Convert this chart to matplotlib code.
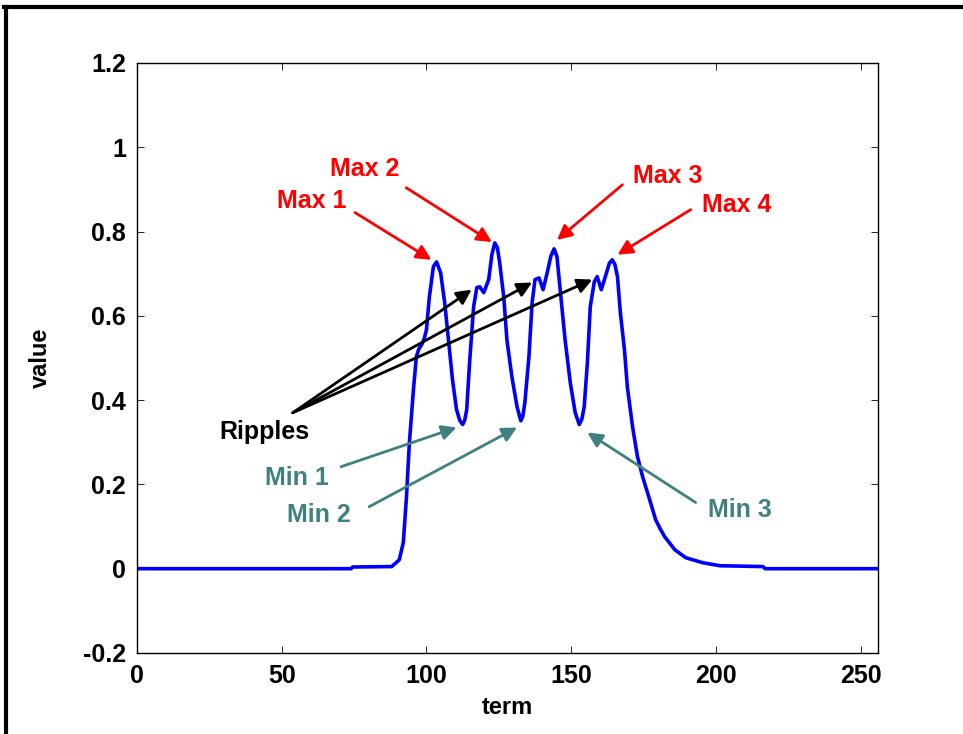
import matplotlib
matplotlib.use("Agg")
import matplotlib.pyplot as plt
from matplotlib.lines import Line2D

plt.rcParams['font.family'] = ['Liberation Sans', 'DejaVu Sans']
plt.rcParams['font.weight'] = 'bold'

# curve
term = [0, 74, 74.5, 88, 90.6, 92.0, 93.1, 94.1, 95.5, 96.5, 97.4, 98.3, 99.2, 100.0, 101.0, 102.4,
        103.5, 104.9, 106.3, 107.6, 109.0, 110.4, 111.5, 112.5, 113.2, 113.9, 114.9, 116.3, 117.4,
        118.4, 119.8, 121.5, 122.6, 123.6, 124.5, 125.3, 126.7, 127.8, 129.5, 131.3, 132.6, 133.3,
        134.0, 135.4, 136.5, 137.5, 138.9, 140.3, 141.7, 143.0, 144.1, 145.1, 146.2, 147.9, 149.7,
        151.4, 152.8, 153.7, 154.5, 155.6, 156.6, 158.0, 159.0, 160.4, 161.8, 163.2, 164.2, 165.1,
        166.0, 167.0, 168.4, 169.4, 171.2, 172.9, 174.7, 177.1, 179.2, 180.8, 182.3, 185.8,
        189.6, 195.5, 201.4, 216.3, 217, 256]
value = [0, 0, 0.004, 0.005, 0.021, 0.062, 0.171, 0.299, 0.425, 0.503, 0.522, 0.531, 0.545, 0.567,
         0.645, 0.717, 0.728, 0.702, 0.631, 0.543, 0.448, 0.377, 0.352, 0.342, 0.352, 0.377,
         0.489, 0.622, 0.667, 0.669, 0.655, 0.686, 0.745, 0.773, 0.762, 0.726, 0.645, 0.543,
         0.456, 0.384, 0.351, 0.362, 0.394, 0.503, 0.631, 0.686, 0.690, 0.662, 0.702, 0.742,
         0.759, 0.740, 0.662, 0.543, 0.441, 0.370, 0.342, 0.355, 0.384, 0.489, 0.622, 0.681,
         0.693, 0.662, 0.693, 0.725, 0.733, 0.722, 0.693, 0.607, 0.520, 0.432, 0.337, 0.266,
         0.218, 0.164, 0.116, 0.094, 0.076, 0.045, 0.026, 0.014, 0.007, 0.005, 0, 0]

x_ticks = [0, 50, 100, 150, 200, 250]
y_ticks = [-0.2, 0, 0.2, 0.4, 0.6, 0.8, 1, 1.2]
y_labels = ['-0.2', '0', '0.2', '0.4', '0.6', '0.8', '1', '1.2']

# (label, text pos, arrow start, arrow end, colour)
red = '#ff0000'
teal = '#408080'
notes = [
    ('Max 1', (60.4, 0.873), (75.3, 0.845), (101.7, 0.733), red),
    ('Max 2', (78.5, 0.949), (93.0, 0.904), (122.6, 0.775), red),
    ('Max 3', (183.3, 0.932), (167.7, 0.911), (145.1, 0.78), red),
    ('Max 4', (207.3, 0.864), (191.3, 0.852), (166.0, 0.745), red),
    ('Min 1', (55.2, 0.216), (70.5, 0.242), (110.4, 0.335), teal),
    ('Min 2', (62.8, 0.128), (80.2, 0.147), (131.3, 0.335), teal),
    ('Min 3', (208.3, 0.140), (193.0, 0.157), (155.6, 0.323), teal),
]
ripple_text = (44.1, 0.325)
ripple_start = (53.8, 0.370)
ripple_ends = [(115.6, 0.662), (136.5, 0.679), (157.3, 0.686)]

fig = plt.figure(figsize=(9.63, 7.34), dpi=100)
ax = fig.add_axes([0.1423, 0.1104, 0.7694, 0.8038])
ax.plot(term, value, color='#0000ff', lw=2.6, solid_joinstyle='round')

ax.set_xlim(0, 256)
ax.set_ylim(-0.2, 1.2)
ax.set_xticks(x_ticks)
ax.set_yticks(y_ticks)
ax.set_yticklabels(y_labels)
ax.tick_params(direction='in', length=5, width=0.6, labelsize=18, top=True, right=True, pad=8)
for lab in ax.get_xticklabels() + ax.get_yticklabels():
    lab.set_fontweight('bold')
for s in ax.spines.values():
    s.set_linewidth(1.0)
ax.set_xlabel('term', fontsize=17, fontweight='bold', labelpad=6)
ax.set_ylabel('value', fontsize=17, fontweight='bold', labelpad=22)

for label, tpos, a0, a1, col in notes:
    ax.text(tpos[0], tpos[1], label, color=col,
            fontsize=18, fontweight='bold', ha='center', va='center')
    ax.annotate('', xy=a1, xytext=a0,
                arrowprops=dict(arrowstyle='-|>', color=col, lw=2, mutation_scale=22,
                                shrinkA=0, shrinkB=0))

ax.text(ripple_text[0], ripple_text[1], 'Ripples', color='black', fontsize=18,
        fontweight='bold', ha='center', va='center')
for end in ripple_ends:
    ax.annotate('', xy=end, xytext=ripple_start,
                arrowprops=dict(arrowstyle='-|>', color='black', lw=2, mutation_scale=22,
                                shrinkA=0, shrinkB=0))

# outer frame (top and left edges)
fig.add_artist(Line2D([0.004, 1.0], [0.991, 0.991], color='black', lw=3, transform=fig.transFigure))
fig.add_artist(Line2D([0.006, 0.006], [0.0, 0.991], color='black', lw=3, transform=fig.transFigure))

fig.savefig('out.png', dpi=100)
